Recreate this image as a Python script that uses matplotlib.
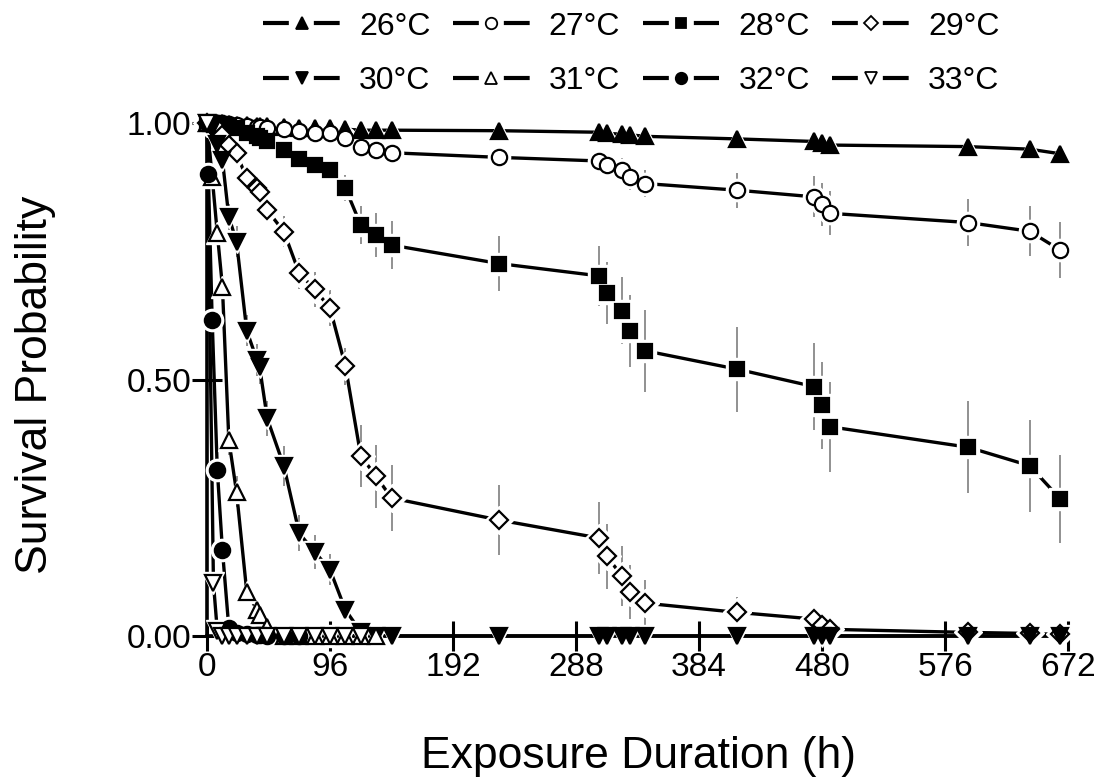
import matplotlib
matplotlib.use('Agg')
import matplotlib.pyplot as plt
from matplotlib.lines import Line2D

plt.rcParams['font.family'] = ['Liberation Sans', 'DejaVu Sans']

# sampling times (h)
t_main = [0, 4, 8, 12, 17, 23, 31, 39, 41, 47, 60, 72, 84, 96, 108, 120, 132,
          144, 228, 306, 312, 324, 330, 342, 414, 474, 480, 486, 594, 642, 666]
t31 = [0, 4, 8, 12, 17, 23, 31, 39, 41, 47, 60, 72, 84, 96, 108, 120, 132]
t32 = [0, 1, 4, 8, 12, 17, 23, 31, 39, 41, 47, 60, 72]
t33 = [0, 5, 8, 12, 17, 23, 31, 39, 47, 60, 72, 84, 96, 108, 120]

# survival probabilities
s26 = [1, 1, 1, 1, 0.998, 0.997, 0.996, 0.995, 0.995, 0.994, 0.993, 0.99, 0.99,
       0.99, 0.988, 0.986, 0.986, 0.986, 0.985, 0.982, 0.98, 0.978, 0.977, 0.974,
       0.969, 0.964, 0.962, 0.957, 0.954, 0.949, 0.94]
s27 = [1, 1, 1, 1, 0.998, 0.997, 0.995, 0.993, 0.993, 0.99, 0.988, 0.985, 0.98,
       0.98, 0.97, 0.954, 0.947, 0.942, 0.933, 0.926, 0.918, 0.908, 0.894, 0.882,
       0.869, 0.856, 0.842, 0.824, 0.806, 0.789, 0.752]
s28 = [1, 1, 1, 0.998, 0.995, 0.99, 0.98, 0.975, 0.97, 0.964, 0.947, 0.93, 0.918,
       0.908, 0.873, 0.801, 0.782, 0.762, 0.726, 0.702, 0.669, 0.634, 0.595, 0.556,
       0.52, 0.486, 0.45, 0.408, 0.368, 0.332, 0.267]
s29 = [1, 0.995, 0.99, 0.977, 0.957, 0.941, 0.892, 0.873, 0.866, 0.83, 0.788,
       0.707, 0.676, 0.639, 0.526, 0.351, 0.311, 0.269, 0.226, 0.191, 0.155, 0.117,
       0.086, 0.064, 0.046, 0.033, 0.021, 0.013, 0.007, 0.005, 0.003]
s30 = [1, 0.99, 0.96, 0.928, 0.817, 0.769, 0.595, 0.538, 0.525, 0.424, 0.331, 0.2,
       0.164, 0.129, 0.051, 0.008, 0, 0, 0, 0, 0, 0, 0, 0, 0, 0, 0, 0, 0, 0, 0]
s31 = [1, 0.895, 0.785, 0.681, 0.382, 0.281, 0.086, 0.051, 0.041, 0.018, 0, 0, 0,
       0, 0, 0, 0]
s32 = [1, 0.9, 0.616, 0.324, 0.168, 0.016, 0.005, 0.003, 0.002, 0.001, 0, 0, 0]
s33 = [1, 0.103, 0.01, 0, 0, 0, 0, 0, 0, 0, 0, 0, 0, 0, 0]

# standard errors
e26 = [0] * 31
e27 = [0, 0, 0, 0, 0, 0, 0.003, 0.004, 0.004, 0.005, 0.006, 0.008, 0.01, 0.01,
       0.012, 0.014, 0.015, 0.016, 0.02, 0.022, 0.022, 0.024, 0.025, 0.027, 0.034,
       0.04, 0.042, 0.043, 0.046, 0.049, 0.055]
e28 = [0, 0, 0, 0.002, 0.005, 0.007, 0.01, 0.012, 0.012, 0.014, 0.017, 0.019,
       0.02, 0.02, 0.026, 0.037, 0.043, 0.047, 0.053, 0.058, 0.06, 0.065, 0.07,
       0.08, 0.083, 0.085, 0.085, 0.088, 0.09, 0.09, 0.086]
e29 = [0, 0.003, 0.005, 0.01, 0.014, 0.018, 0.022, 0.024, 0.025, 0.027, 0.03,
       0.03, 0.034, 0.035, 0.036, 0.06, 0.062, 0.065, 0.069, 0.07, 0.064, 0.058,
       0.052, 0.045, 0.03, 0.02, 0.015, 0.012, 0.008, 0.006, 0.004]
e30 = [0, 0.006, 0.012, 0.018, 0.025, 0.03, 0.03, 0.032, 0.033, 0.035, 0.039,
       0.035, 0.033, 0.03, 0.02, 0.005, 0, 0, 0, 0, 0, 0, 0, 0, 0, 0, 0, 0, 0, 0, 0]
e31 = [0, 0.02, 0.02, 0.02, 0.03, 0.03, 0.02, 0.015, 0.015, 0.01, 0, 0, 0, 0, 0, 0, 0]
e32 = [0] * 13
e33 = [0] * 15

labels = ['26°C', '27°C', '28°C', '29°C', '30°C', '31°C', '32°C', '33°C']
series = [
    (t_main, s26, e26, '^', 'black'),
    (t_main, s27, e27, 'o', 'white'),
    (t_main, s28, e28, 's', 'black'),
    (t_main, s29, e29, 'D', 'white'),
    (t_main, s30, e30, 'v', 'black'),
    (t31, s31, e31, '^', 'white'),
    (t32, s32, e32, 'o', 'black'),
    (t33, s33, e33, 'v', 'white'),
]
msizes = {'^': 11, 'v': 11, 'o': 11, 's': 10.5, 'D': 9.5}

fig = plt.figure(figsize=(11.06, 7.82), dpi=100)
ax = fig.add_axes([0.1872, 0.1867, 0.7785, 0.656])

for t, s, e, m, fc in series:
    ms = msizes[m]
    ax.errorbar(t, s, yerr=e, fmt='none', ecolor='0.45', elinewidth=1.1,
                capsize=0, zorder=1)
    ax.plot(t, s, '-', color='black', lw=2.4, zorder=2, clip_on=False)
    ax.plot(t, s, ls='none', marker=m, ms=ms + 5, mfc='white', mec='white',
            zorder=3, clip_on=False)
    ax.plot(t, s, ls='none', marker=m, ms=ms, mfc=fc, mec='black', mew=1.6,
            zorder=4, clip_on=False)

ax.set_xlim(0, 672)
ax.set_ylim(0, 1)
ax.set_xticks(range(0, 673, 96))
ax.set_yticks([0, 0.5, 1.0])
ax.set_yticklabels(['0.00', '0.50', '1.00'])
ax.tick_params(direction='inout', length=21, width=2.2, labelsize=24, pad=1)
for side in ['top', 'right']:
    ax.spines[side].set_visible(False)
for side in ['left', 'bottom']:
    ax.spines[side].set_linewidth(2.6)

fig.text(0.032, 0.508, 'Survival Probability', rotation=90, fontsize=32,
         ha='center', va='center')
fig.text(0.577, 0.032, 'Exposure Duration (h)', fontsize=32,
         ha='center', va='center')

# legend, row-wise order in a 4-column layout
handles = []
for (t, s, e, m, fc) in series:
    handles.append(Line2D([], [], color='black', lw=3, ls=(0, (6.2, 6.0)),
                          marker=m, ms=msizes[m] * 0.75, mfc=fc, mec='black',
                          mew=1.3))
order = [0, 4, 1, 5, 2, 6, 3, 7]
fig.legend([handles[i] for i in order], [labels[i] for i in order],
           loc='upper center', bbox_to_anchor=(0.571, 1.022), ncol=4,
           frameon=False, fontsize=23, handlelength=2.4, handletextpad=0.6,
           columnspacing=0.7, labelspacing=0.78)

fig.savefig('out.png', dpi=100)
